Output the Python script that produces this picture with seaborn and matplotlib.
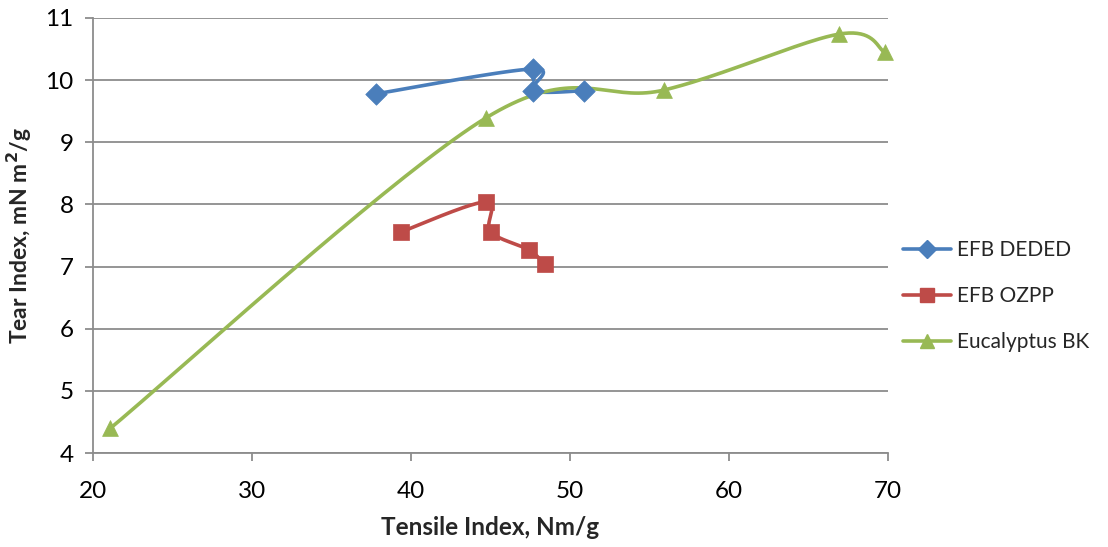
import numpy as np
import pandas as pd
import matplotlib
matplotlib.use("Agg")
import matplotlib.pyplot as plt
import seaborn as sns

# Tensile index (Nm/g) and tear index (mN m2/g) per pulp
deded_tensile = [37.8, 47.7, 47.7, 50.9]
deded_tear = [9.78, 10.18, 9.83, 9.83]

ozpp_tensile = [39.4, 44.7, 45.0, 47.4, 48.4]
ozpp_tear = [7.56, 8.04, 7.56, 7.27, 7.04]

euca_tensile = [21.1, 44.7, 55.9, 66.9, 69.8]
euca_tear = [4.40, 9.39, 9.84, 10.74, 10.45]

series_names = ["EFB DEDED", "EFB OZPP", "Eucalyptus BK"]
colors = ["#4A7EBB", "#BE4B48", "#98B954"]
markers = ["D", "s", "^"]

x_ticks = [20, 30, 40, 50, 60, 70]
y_ticks = [4, 5, 6, 7, 8, 9, 10, 11]


def smooth(xs, ys, n=40):
    """Catmull-Rom style Bezier smoothing through the given points."""
    p = np.column_stack([xs, ys]).astype(float)
    ext = np.vstack([p[0], p, p[-1]])
    out = []
    t = np.linspace(0, 1, n)[:, None]
    for i in range(1, len(ext) - 2):
        p0, p1, p2, p3 = ext[i - 1], ext[i], ext[i + 1], ext[i + 2]
        c1 = p1 + (p2 - p0) / 6.0
        c2 = p2 - (p3 - p1) / 6.0
        seg = ((1 - t) ** 3) * p1 + 3 * ((1 - t) ** 2) * t * c1 \
            + 3 * (1 - t) * t ** 2 * c2 + t ** 3 * p2
        out.append(seg if i == 1 else seg[1:])
    out = np.vstack(out)
    return out[:, 0], out[:, 1]


sns.set_theme(style="white")
plt.rcParams["font.family"] = ["Lato", "DejaVu Sans"]

fig = plt.figure(figsize=(11.08, 5.47), dpi=100)
ax = fig.add_axes([93 / 1108, 1 - 453 / 547, (888 - 93) / 1108, (453 - 18) / 547])

data = [(deded_tensile, deded_tear), (ozpp_tensile, ozpp_tear), (euca_tensile, euca_tear)]
for (xs, ys), name, col, mk in zip(data, series_names, colors, markers):
    sx, sy = smooth(xs, ys)
    curve = pd.DataFrame({"x": sx, "y": sy})
    sns.lineplot(data=curve, x="x", y="y", sort=False, color=col, lw=2.6, ax=ax,
                 zorder=3)
    pts = pd.DataFrame({"x": xs, "y": ys})
    ms = 120 if mk == "D" else 130
    sns.scatterplot(data=pts, x="x", y="y", marker=mk, s=ms, color=col,
                    edgecolor=col, linewidth=0.5, ax=ax, zorder=4, clip_on=False)
    ax.plot([], [], color=col, lw=2.6, marker=mk,
            markersize=9 if mk == "D" else 10, label=name)

ax.set_xlim(20, 70)
ax.set_ylim(4, 11)
ax.set_xticks(x_ticks)
ax.set_yticks(y_ticks)
ax.yaxis.grid(True, color="#8C8C8C", lw=1.3)
ax.xaxis.grid(False)
for side in ("top", "right"):
    ax.spines[side].set_visible(False)
for side in ("left", "bottom"):
    ax.spines[side].set_color("#8C8C8C")
    ax.spines[side].set_linewidth(1.3)
ax.tick_params(axis="both", which="major", direction="out", length=6, width=1.3,
               color="#8C8C8C", labelsize=17.5, labelcolor="black", pad=8, left=True,
               bottom=True)
ax.tick_params(axis="x", pad=14)

ax.set_xlabel("Tensile Index, Nm/g", fontsize=17.5, fontweight="bold", labelpad=10)
ax.set_ylabel("Tear Index, mN m$^{\\mathbf{2}}$/g", fontsize=16.5, fontweight="bold",
              labelpad=8)

leg = ax.legend(loc="center left", bbox_to_anchor=(0.995, 0.36), frameon=False,
                fontsize=15, handlelength=2.3, labelspacing=1.25, handletextpad=0.3)

fig.savefig("out.png", dpi=100)
